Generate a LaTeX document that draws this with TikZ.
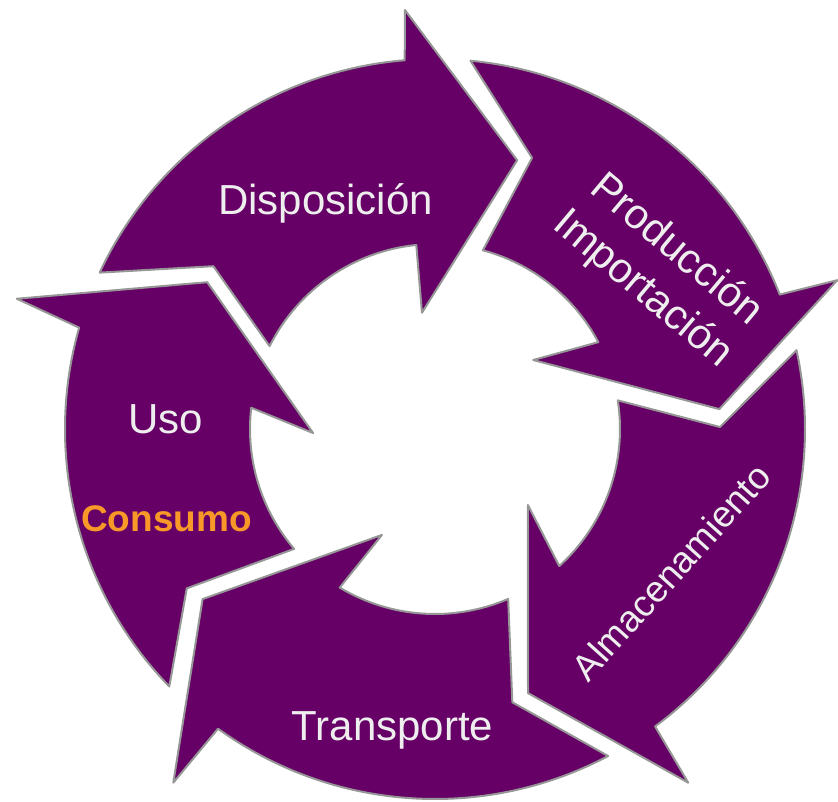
\documentclass[tikz,border=0pt]{standalone}
\usepackage{fontspec}
\setmainfont{Liberation Sans}
\definecolor{purp}{RGB}{102,0,102}
\definecolor{rim}{RGB}{150,150,150}
\definecolor{txt}{RGB}{238,238,238}
\definecolor{orng}{RGB}{248,152,40}
\begin{document}
\begin{tikzpicture}[x=0.5pt, y=0.5pt, line join=round, line cap=round,
  blockarrow/.style={fill=purp, draw=rim, line width=1pt},
  lbl/.style={text=txt, font=\fontsize{21}{26}\selectfont, inner sep=0pt, align=center}]
\def\R{370} \def\r{185}
\useasboundingbox (-435,-372) rectangle (403,429);
\foreach \oc/\ob/\obr/\tp/\tpr/\ib/\ibr/\ic/\ti/\na/\nr/\to in {
  164.1/162.7/438/147.2/271/181.9/122/173.4/220.4/212.7/295/224.1,
  94.7/94.1/420/73/281/96.4/117/95.8/153.4/143.7/275/155,
  21.3/20.3/429/4/285/35.1/120/28/75/70.3/288/84.5,
  -53.5/-54.4/435/-70.6/280/-39.3/120/-47.8/8.9/0.4/285/12.3,
  -125.9/-126.5/440/-143.8/288/-116.6/118.5/-121/-66.7/-74.2/284/-62.1}
\draw[blockarrow] (\oc:\R) -- (\ob:\obr) -- (\tp:\tpr) -- (\ib:\ibr) -- (\ic:\r)
  arc[start angle=\ic, end angle=\ti, radius=\r] -- (\na:\nr) -- (\to:\R)
  arc[start angle=\to, end angle=\oc, radius=\R] -- cycle;
\node[lbl, anchor=base] (disp) at (-109.5,214) {Disposición};
\node[lbl, rotate=-40] (prod) at (224,159) {Producción\\Importación};
\node[lbl, rotate=48, font=\fontsize{18.5}{22}\selectfont] (alm) at (236,-143) {Almacenamiento};
\node[lbl, anchor=base] (trans) at (-42.5,-311) {Transporte};
\node[lbl, anchor=base] (uso) at (-269.5,-5) {Uso};
\node[lbl, anchor=base, text=orng, font=\fontsize{18.5}{22}\selectfont\bfseries] (cons) at (-268.5,-103) {Consumo};
\end{tikzpicture}
\end{document}
